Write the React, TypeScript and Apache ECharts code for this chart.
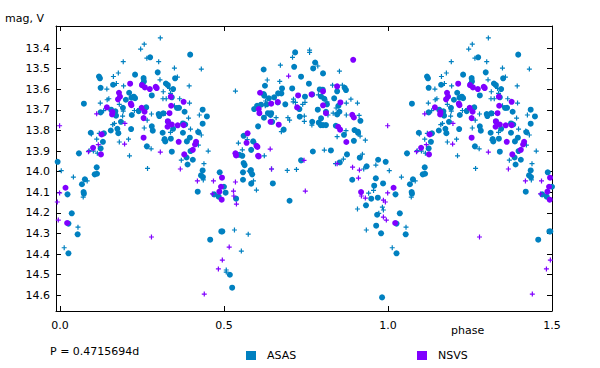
import React, { useEffect, useRef } from "react";
import * as echarts from "echarts";

type Pt = [number, number];

// phase, magnitude (V) — phase-folded, one cycle; copies at ±1 are drawn
const asasBig: Pt[] = [
  [0.275,13.445],[0.397,13.432],[0.298,13.518],[0.229,13.529],[0.119,13.538],[0.122,13.547],[0.255,13.546],[0.256,13.562],
  [0.252,13.575],[0.351,13.547],[0.323,13.572],[0.329,13.580],[0.162,13.578],[0.124,13.593],[0.280,13.630],[0.345,13.599],
  [0.211,13.617],[0.341,13.639],[0.225,13.636],[0.218,13.641],[0.229,13.643],[0.201,13.651],[0.073,13.670],[0.363,13.690],
  [0.357,13.691],[0.263,13.688],[0.192,13.690],[0.156,13.699],[0.169,13.707],[0.124,13.712],[0.240,13.706],[0.171,13.728],
  [0.219,13.725],[0.301,13.720],[0.303,13.730],[0.315,13.717],[0.380,13.709],[0.435,13.699],[0.448,13.732],[0.329,13.756],
  [0.186,13.758],[0.345,13.792],[0.375,13.766],[0.382,13.771],[0.435,13.767],[0.280,13.780],[0.283,13.801],[0.217,13.793],
  [0.175,13.792],[0.178,13.813],[0.155,13.800],[0.094,13.811],[0.134,13.814],[0.131,13.855],[0.313,13.811],[0.319,13.842],
  [0.321,13.853],[0.338,13.840],[0.375,13.811],[0.422,13.808],[0.396,13.835],[0.387,13.853],[0.265,13.877],[0.124,13.887],
  [0.058,13.911],[0.341,13.903],[0.398,13.900],[0.386,13.931],[0.405,13.942],[0.389,13.965],[0.112,13.979],[0.435,13.994],
  [0.067,14.061],[0.076,14.037],[0.106,14.013],[0.113,14.010],[0.023,14.110],[0.072,14.099],[0.073,14.107],[0.036,14.202],
  [0.026,14.252],[0.054,14.304],[0.026,14.396],[0.430,14.018],[0.436,14.026],[0.487,14.003],[0.500,14.073],[0.420,14.097],
  [0.470,14.110],[0.484,14.121],[0.492,14.290],[0.495,14.290],[0.458,14.330],
  [0.717,13.421],[0.778,13.470],[0.714,13.491],[0.621,13.504],[0.772,13.499],[0.802,13.523],[0.735,13.539],[0.759,13.573],
  [0.625,13.583],[0.868,13.593],[0.872,13.604],[0.677,13.596],[0.708,13.596],[0.792,13.601],[0.801,13.602],[0.845,13.610],
  [0.621,13.623],[0.623,13.631],[0.665,13.620],[0.675,13.620],[0.769,13.625],[0.796,13.635],[0.806,13.646],[0.747,13.636],
  [0.653,13.639],[0.637,13.644],[0.836,13.644],[0.664,13.664],[0.630,13.673],[0.613,13.675],[0.601,13.680],[0.592,13.696],
  [0.687,13.673],[0.786,13.699],[0.730,13.696],[0.814,13.673],[0.849,13.680],[0.852,13.709],[0.845,13.722],[0.916,13.753],
  [0.811,13.709],[0.634,13.716],[0.644,13.716],[0.642,13.725],[0.622,13.738],[0.731,13.733],[0.796,13.741],[0.769,13.758],
  [0.789,13.762],[0.795,13.774],[0.802,13.774],[0.811,13.774],[0.647,13.758],[0.604,13.780],[0.682,13.796],[0.841,13.777],
  [0.866,13.821],[0.898,13.798],[0.908,13.806],[0.909,13.812],[0.896,13.850],[0.560,13.826],[0.589,13.853],[0.583,13.894],
  [0.547,13.918],[0.556,13.923],[0.771,13.902],[0.826,13.897],[0.875,13.916],[0.914,13.932],[0.970,13.942],[0.993,13.952],
  [0.735,13.945],[0.853,13.955],[0.935,13.974],[0.560,13.958],[0.563,13.968],[0.582,13.992],
  [0.505,14.102],[0.558,14.003],[0.558,14.039],[0.581,13.997],[0.586,14.013],[0.583,14.058],[0.649,14.057],[0.537,14.131],
  [0.700,14.141],[0.518,14.500],[0.525,14.563],[0.891,14.039],[0.963,14.032],[0.985,14.057],[0.958,14.068],[0.949,14.131],
  [0.969,14.126],[0.933,14.163],[0.967,14.209],[0.964,14.262],[0.979,14.299],[0.982,14.610],
];

const asasSmall: Pt[] = [
  [0.306,13.351],[0.257,13.381],[0.246,13.405],[0.265,13.449],[0.193,13.466],[0.301,13.466],[0.349,13.497],[0.431,13.502],
  [0.178,13.521],[0.163,13.538],[0.305,13.554],[0.358,13.541],[0.172,13.572],[0.194,13.584],[0.143,13.599],[0.315,13.612],
  [0.334,13.596],[0.394,13.584],[0.337,13.620],[0.314,13.646],[0.324,13.646],[0.149,13.646],[0.144,13.651],[0.123,13.667],
  [0.181,13.673],[0.365,13.646],[0.395,13.667],[0.349,13.680],[0.193,13.706],[0.133,13.704],[0.237,13.703],[0.227,13.703],
  [0.191,13.730],[0.279,13.720],[0.321,13.717],[0.425,13.725],[0.392,13.740],[0.266,13.750],[0.166,13.766],[0.161,13.772],
  [0.398,13.793],[0.257,13.788],[0.120,13.814],[0.096,13.817],[0.112,13.842],[0.181,13.856],[0.209,13.842],[0.337,13.809],
  [0.317,13.848],[0.420,13.803],[0.431,13.822],[0.422,13.871],[0.278,13.889],[0.102,13.900],[0.089,13.898],[0.114,13.910],
  [0.452,13.900],[0.370,13.944],[0.212,13.923],[0.439,13.961],[0.267,13.984],[0.004,13.995],
  [0.041,14.026],[0.083,14.045],[0.071,14.123],[0.055,14.269],[0.013,14.369],[0.437,14.040],
  [0.761,13.410],[0.761,13.421],[0.709,13.445],[0.786,13.487],[0.672,13.483],[0.852,13.512],[0.632,13.555],[0.670,13.562],
  [0.831,13.580],[0.861,13.580],[0.535,13.609],[0.788,13.627],[0.627,13.657],[0.887,13.648],[0.712,13.648],[0.711,13.661],
  [0.626,13.680],[0.740,13.673],[0.747,13.664],[0.718,13.664],[0.814,13.661],[0.842,13.691],[0.873,13.667],[0.907,13.667],
  [0.833,13.716],[0.873,13.725],[0.912,13.727],[0.817,13.725],[0.659,13.738],[0.695,13.738],[0.700,13.750],[0.745,13.730],
  [0.745,13.756],[0.768,13.774],[0.675,13.806],[0.872,13.801],[0.915,13.827],[0.931,13.847],[0.845,13.830],[0.544,13.861],
  [0.571,13.844],[0.597,13.866],[0.556,13.894],[0.623,13.923],[0.806,13.895],[0.922,13.915],[0.963,13.968],[0.864,13.939],
  [0.840,13.961],[0.645,13.987],[0.721,13.989],[0.693,13.994],[0.926,13.987],
  [0.577,13.997],[0.590,14.045],[0.599,14.089],[0.532,14.283],[0.574,14.303],[0.553,14.385],[0.507,14.477],[0.507,14.487],
  [0.956,14.091],[0.941,14.104],[0.907,14.181],[0.983,14.172],[0.986,14.186],[0.972,14.202],[0.934,14.283],
];

const nsvsBig: Pt[] = [
  [0.214,13.573],[0.250,13.580],[0.259,13.591],[0.274,13.599],[0.292,13.588],[0.295,13.594],[0.338,13.636],[0.180,13.617],
  [0.183,13.636],[0.177,13.649],[0.216,13.670],[0.218,13.677],[0.377,13.661],[0.339,13.680],[0.143,13.688],[0.249,13.690],
  [0.160,13.711],[0.258,13.709],[0.159,13.722],[0.255,13.740],[0.334,13.716],[0.329,13.756],[0.341,13.771],[0.328,13.782],
  [0.359,13.775],[0.377,13.774],[0.127,13.819],[0.255,13.835],[0.362,13.855],[0.415,13.855],[0.412,13.868],[0.125,13.916],
  [0.379,13.916],[0.405,13.894],[0.101,13.884],
  [0.017,14.078],[0.022,14.249],[0.494,14.029],[0.491,14.073],[0.486,14.097],[0.493,14.136],
  [0.894,13.457],[0.845,13.586],[0.802,13.610],[0.610,13.617],[0.726,13.630],[0.767,13.625],[0.855,13.664],[0.664,13.662],
  [0.644,13.670],[0.606,13.696],[0.608,13.716],[0.723,13.688],[0.802,13.678],[0.891,13.724],[0.896,13.737],[0.811,13.716],
  [0.642,13.758],[0.667,13.772],[0.848,13.782],[0.854,13.796],[0.873,13.856],[0.572,13.814],[0.569,13.860],[0.599,13.874],
  [0.602,13.880],[0.535,13.911],[0.537,13.921],[0.604,13.923],[0.606,13.926],[0.918,14.099],
];

const nsvsSmall: Pt[] = [
  [0.999,13.777],[0.306,13.905],[0.367,13.987],[0.198,13.766],[0.087,13.903],[0.197,13.866],[0.112,13.719],[0.117,13.869],
  [0.999,14.103],[0.419,14.045],[0.468,14.045],[0.465,14.108],[0.279,14.317],[0.495,14.429],[0.483,14.472],[0.440,14.594],
  [0.697,13.536],[0.641,13.890],[0.744,13.945],[0.845,13.961],[0.892,13.978],
  [0.645,13.987],[0.535,14.050],[0.529,14.094],[0.530,14.118],[0.538,14.157],[0.748,14.094],[0.516,14.366],[0.910,14.031],
  [0.913,13.992],[0.919,14.118],[0.931,14.128],[0.986,14.138],[0.992,14.147],[0.986,14.220],[0.995,14.235],
];

const xTicks = [0, 0.5, 1.0, 1.5];
const yTicks = [13.4, 13.5, 13.6, 13.7, 13.8, 13.9, 14.0, 14.1, 14.2, 14.3, 14.4, 14.5, 14.6];
const X_MIN = -0.012;
const X_MAX = 1.5;
const Y_MIN = 13.293;
const Y_MAX = 14.676;
const periodText = "P = 0.4715694d";

const ASAS_COLOR = "#0080c0";
const NSVS_COLOR = "#8000ff";
const FONT = "DejaVu Sans";
const PLUS = "path://M1.9,0H3.1V5H1.9Z M0,1.9H5V3.1H0Z";

function fold(pts: Pt[]): Pt[] {
  const out: Pt[] = [];
  for (const [p, m] of pts) {
    for (const s of [-1, 0, 1]) {
      const q = p + s;
      if (q >= X_MIN && q <= X_MAX) out.push([q, m]);
    }
  }
  return out;
}

export default function App() {
  const ref = useRef<HTMLDivElement>(null);
  useEffect(() => {
    if (!ref.current) return;
    const chart = echarts.init(ref.current, null, { renderer: "svg" });
    const axisLine = { show: true, onZero: false, lineStyle: { color: "#000", width: 1 } };
    const tick = (vals: number[]) => ({ show: true, inside: true, length: 5, customValues: vals, lineStyle: { color: "#000" } });
    const lg = (name: string, left: number) => ({
      data: [name], left, top: 345, icon: "rect", itemWidth: 10, itemHeight: 9,
      textStyle: { color: "#000", fontFamily: FONT, fontSize: 11, padding: [0, 0, 0, 6] },
    });
    chart.setOption({
      animation: false,
      backgroundColor: "#fff",
      grid: { left: 56, right: 48, top: 26, bottom: 57 },
      xAxis: [
        {
          type: "value", position: "bottom", min: X_MIN, max: X_MAX,
          axisLine, axisTick: tick(xTicks), splitLine: { show: false },
          axisLabel: { customValues: xTicks, formatter: (v: number) => v.toFixed(1), color: "#000", fontFamily: FONT, fontSize: 11, margin: 9 },
        },
        {
          type: "value", position: "top", min: X_MIN, max: X_MAX,
          axisLine, axisTick: tick(xTicks), splitLine: { show: false }, axisLabel: { show: false },
        },
      ],
      yAxis: [
        {
          type: "value", position: "left", inverse: true, min: Y_MIN, max: Y_MAX,
          axisLine, axisTick: tick(yTicks), splitLine: { show: false },
          axisLabel: { customValues: yTicks, formatter: (v: number) => v.toFixed(1), color: "#000", fontFamily: FONT, fontSize: 11, margin: 6 },
        },
        {
          type: "value", position: "right", inverse: true, min: Y_MIN, max: Y_MAX,
          axisLine, axisTick: tick(yTicks), splitLine: { show: false }, axisLabel: { show: false },
        },
      ],
      legend: [lg("ASAS", 241), lg("NSVS", 412)],
      graphic: [
        { type: "text", x: 5, y: 18, style: { text: "mag, V", font: `11px '${FONT}'`, fill: "#000", verticalAlign: "middle" } },
        { type: "text", x: 451, y: 330, style: { text: "phase", font: `11px '${FONT}'`, fill: "#000", verticalAlign: "middle" } },
        { type: "text", x: 50, y: 351, style: { text: periodText, font: `11px '${FONT}'`, fill: "#000", verticalAlign: "middle" } },
      ],
      series: [
        { name: "ASAS", type: "scatter", data: fold(asasSmall), symbol: PLUS, symbolSize: 5, itemStyle: { color: ASAS_COLOR, opacity: 1 }, clip: true },
        { name: "ASAS", type: "scatter", data: fold(asasBig), symbol: "circle", symbolSize: 6, itemStyle: { color: ASAS_COLOR, opacity: 1 }, clip: true },
        { name: "NSVS", type: "scatter", data: fold(nsvsSmall), symbol: PLUS, symbolSize: 5, itemStyle: { color: NSVS_COLOR, opacity: 1 }, clip: true },
        { name: "NSVS", type: "scatter", data: fold(nsvsBig), symbol: "circle", symbolSize: 6, itemStyle: { color: NSVS_COLOR, opacity: 1 }, clip: true },
      ],
    });
    return () => chart.dispose();
  }, []);
  return <div ref={ref} style={{ width: 600, height: 368, position: "absolute", left: 0, top: 0 }} />;
}
